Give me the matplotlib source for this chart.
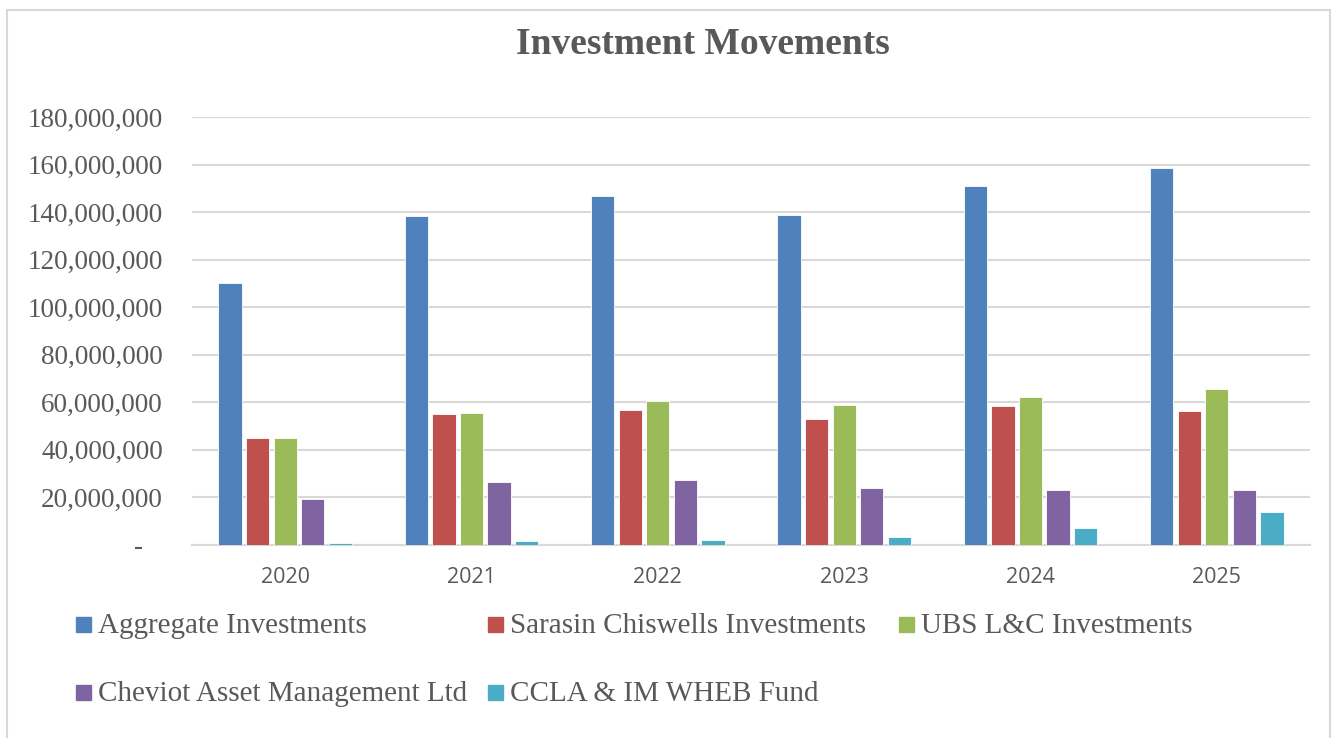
import matplotlib.pyplot as plt
import matplotlib.patches as mpatches
from matplotlib.ticker import FuncFormatter
import numpy as np

years = ["2020", "2021", "2022", "2023", "2024", "2025"]
series_names = [
    "Aggregate Investments",
    "Sarasin Chiswells Investments",
    "UBS L&C Investments",
    "Cheviot Asset Management Ltd",
    "CCLA & IM WHEB Fund",
]
aggregate = [110.0, 138.2, 146.8, 138.6, 151.0, 158.5]
sarasin = [45.1, 55.2, 56.9, 52.9, 58.6, 56.5]
ubs = [44.9, 55.6, 60.7, 59.0, 62.2, 65.6]
cheviot = [19.5, 26.5, 27.5, 24.0, 23.1, 23.0]
ccla = [0.9, 1.5, 2.1, 3.4, 7.3, 13.9]
colors = ["#4F81BD", "#C0504D", "#9BBB59", "#8064A2", "#4BACC6"]

all_series = [aggregate, sarasin, ubs, cheviot, ccla]
text_grey = "#595959"
serif = "Liberation Serif"

fig = plt.figure(figsize=(13.38, 7.38), dpi=100)
ax = fig.add_axes([192 / 1338, 1 - 545 / 738, 1118 / 1338, 428 / 738])

# outer chart border
fig.patches.append(mpatches.Rectangle((7 / 1338, -0.05), 1323 / 1338, 1.05 - 10 / 738,
                                      transform=fig.transFigure, fill=False,
                                      edgecolor="#d9d9d9", linewidth=1.5))

x = np.arange(len(years))
slot = 0.148
width = 0.125
for i, (vals, c) in enumerate(zip(all_series, colors)):
    ax.bar(x + (i - 2) * slot, np.array(vals) * 1e6, width=width, color=c,
           edgecolor="white", linewidth=0.6, zorder=3)

ax.set_xlim(-0.5, len(years) - 0.5)
ax.set_ylim(0, 180e6)
ax.set_yticks(np.arange(0, 180e6 + 1, 20e6))
ax.yaxis.set_major_formatter(FuncFormatter(lambda v, p: "-   " if v == 0 else f"{v:,.0f}"))
ax.grid(axis="y", color="#d9d9d9", linewidth=1.5, zorder=0)
ax.set_axisbelow(True)
for s in ["top", "right", "left"]:
    ax.spines[s].set_visible(False)
ax.spines["bottom"].set_color("#d9d9d9")
ax.spines["bottom"].set_linewidth(1.5)
ax.tick_params(axis="both", length=0)
ax.tick_params(axis="y", pad=21)
ax.tick_params(axis="x", pad=16)
ax.set_xticks(x)
ax.set_xticklabels(years, fontfamily="Open Sans", fontsize=15.5, color=text_grey)
for lbl in ax.get_yticklabels():
    lbl.set_fontfamily(serif)
    lbl.set_fontsize(19.5)
    lbl.set_color(text_grey)

fig.text(703 / 1338, 1 - 45 / 738, "Investment Movements", ha="center", va="center",
         fontfamily=serif, fontweight="bold", fontsize=27, color=text_grey)

# legend laid out like the Excel one: 3 columns, 2 rows
col_x = [76, 488, 899]
row_y = [624, 692]
for i, (name, c) in enumerate(zip(series_names, colors)):
    cx = col_x[i % 3]
    cy = row_y[i // 3]
    fig.patches.append(mpatches.Rectangle((cx / 1338, 1 - (cy + 7.5) / 738), 15 / 1338, 15 / 738,
                                          transform=fig.transFigure, color=c))
    fig.text((cx + 22) / 1338, 1 - (cy + 2) / 738, name, ha="left", va="center",
             fontfamily=serif, fontsize=21, color=text_grey)

fig.savefig("out.png", dpi=100)
